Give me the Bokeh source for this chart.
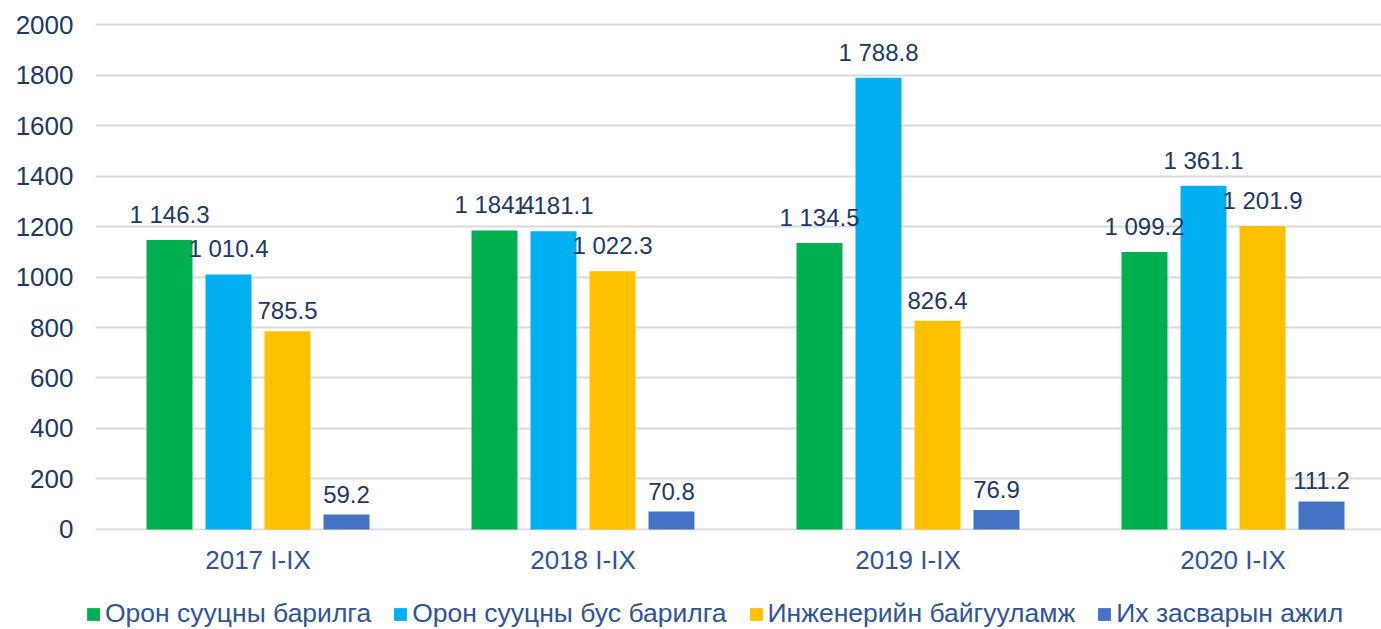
from bokeh.plotting import figure
from bokeh.models import ColumnDataSource, Range1d, FixedTicker, Legend, LegendItem, LabelSet
from bokeh.layouts import column, row
from bokeh.core.properties import value
from bokeh.embed import file_html
from bokeh.resources import INLINE

categories = ["2017 I-IX", "2018 I-IX", "2019 I-IX", "2020 I-IX"]
series_names = ["Орон сууцны барилга", "Орон сууцны бус барилга", "Инженерийн байгууламж", "Их засварын ажил"]
residential = [1146.3, 1184.4, 1134.5, 1099.2]
non_residential = [1010.4, 1181.1, 1788.8, 1361.1]
engineering = [785.5, 1022.3, 826.4, 1201.9]
major_repair = [59.2, 70.8, 76.9, 111.2]
y_ticks = [0, 200, 400, 600, 800, 1000, 1200, 1400, 1600, 1800, 2000]

series_values = [residential, non_residential, engineering, major_repair]
colors = ["#00B050", "#00B0F0", "#FFC000", "#4472C4"]
offsets = [-0.2723, -0.0908, 0.0908, 0.2723]
bar_w = 0.1415

FONT = "Liberation Sans"

p = figure(width=1381, height=593, output_backend="svg", toolbar_location=None,
           x_range=Range1d(0, 1286 / 325), y_range=Range1d(-4, 2008),
           min_border_left=95, min_border_right=0, min_border_top=22, min_border_bottom=63)
p.outline_line_color = None
p.xgrid.grid_line_color = None
p.ygrid.grid_line_color = "#D9D9D9"
p.ygrid.grid_line_width = 2
p.ygrid.ticker = FixedTicker(ticks=y_ticks)

p.yaxis.ticker = FixedTicker(ticks=y_ticks)
p.yaxis.axis_line_color = None
p.yaxis.major_tick_line_color = None
p.yaxis.minor_tick_line_color = None
p.yaxis.major_tick_out = 0
p.yaxis.major_label_standoff = 22
p.yaxis.major_label_text_font = FONT
p.yaxis.major_label_text_font_size = "26px"
p.yaxis.major_label_text_color = "#203864"

centers = [i + 0.5 for i in range(len(categories))]
p.xaxis.ticker = FixedTicker(ticks=centers)
p.xaxis.major_label_overrides = {c: cat for c, cat in zip(centers, categories)}
p.xaxis.axis_line_color = None
p.xaxis.major_tick_line_color = None
p.xaxis.minor_tick_line_color = None
p.xaxis.major_tick_out = 0
p.xaxis.major_label_standoff = 14
p.xaxis.major_label_text_font = FONT
p.xaxis.major_label_text_font_size = "26px"
p.xaxis.major_label_text_color = "#2F5597"

# legend strip below the chart
lg = figure(width=1381, height=36, output_backend="svg", toolbar_location=None,
            x_range=Range1d(0, 1), y_range=Range1d(5000, 5001),
            x_axis_location=None, y_axis_location=None,
            min_border_left=0, min_border_right=0, min_border_top=0, min_border_bottom=0)
lg.grid.visible = False
lg.outline_line_color = None

items = []
for name, vals, col, off in zip(series_names, series_values, colors, offsets):
    src = ColumnDataSource(dict(
        x=[c + off for c in centers],
        top=vals,
        label=[f"{v:,.1f}".replace(",", " ") for v in vals],
    ))
    p.vbar(x="x", top="top", width=bar_w, bottom=0, source=src,
           fill_color=col, line_color=None)
    labels = LabelSet(x="x", y="top", text="label", source=src,
                      text_align="center", text_baseline="bottom", y_offset=12,
                      text_font=value(FONT), text_font_size="24px", text_color="#203864")
    p.add_layout(labels)
    r = lg.vbar(x="x", top="top", width=bar_w, bottom=0, source=src,
                fill_color=col, line_color=None)
    items.append(LegendItem(label=name, renderers=[r]))

legend = Legend(items=items, orientation="horizontal", location=(85, 0),
                label_text_font=FONT, label_text_font_size="26.5px", label_text_color="#2F5597",
                glyph_width=16, glyph_height=16, label_standoff=4, spacing=21,
                padding=0, margin=0, border_line_color=None, background_fill_alpha=0)
lg.add_layout(legend, "center")

open("out.html", "w").write(file_html(column(p, row(lg, spacing=0), spacing=0), INLINE))
